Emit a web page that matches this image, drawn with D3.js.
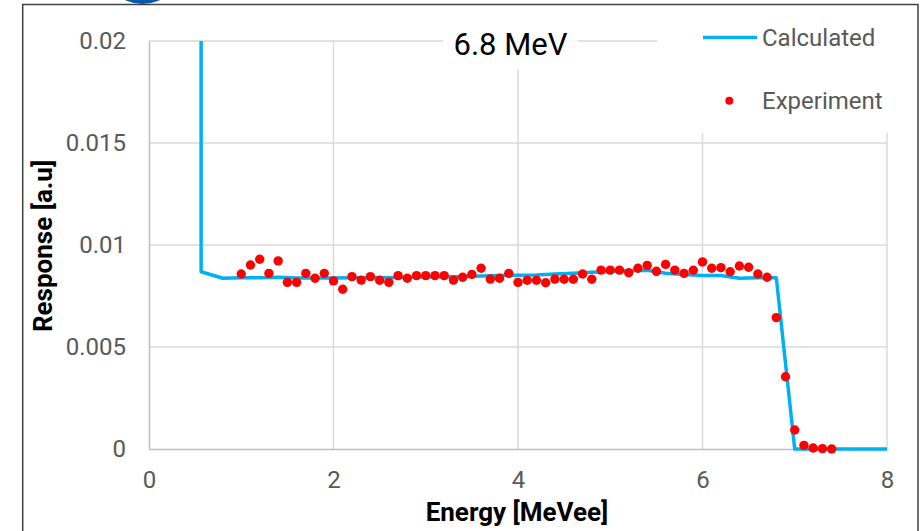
<!DOCTYPE html>
<html>
<head>
<meta charset="utf-8">
<script src="https://cdn.jsdelivr.net/npm/d3@7"></script>
<style>
  body { margin: 0; background: #fff; }
  svg { display: block; font-family: Roboto, "Noto Sans", sans-serif; }
</style>
</head>
<body>
<svg id="chart" width="921" height="531"></svg>
<script>
var width = 921;
var height = 531;

// calculated response curve
var calcEnergy = [0.565, 0.565, 0.8, 1.0, 1.2, 1.4, 1.6, 1.8, 2.0, 2.2, 2.4, 2.6, 2.8, 3.0, 3.2, 3.4, 3.6, 3.8,
  4.0, 4.2, 4.4, 4.6, 4.8, 5.0, 5.2, 5.4, 5.6, 5.8, 6.0, 6.2, 6.4, 6.6, 6.8, 7.0, 7.2, 7.4, 7.6, 7.8, 8.0];
var calcResponse = [0.0200, 0.00869, 0.00837, 0.00840, 0.00840, 0.00842, 0.00838, 0.00838, 0.00838, 0.00840,
  0.00840, 0.00840, 0.00842, 0.00843, 0.00843, 0.00845, 0.00848, 0.00850, 0.00852, 0.00853, 0.00858,
  0.00862, 0.00866, 0.00870, 0.00874, 0.00876, 0.00862, 0.00855, 0.00851, 0.00850, 0.00837, 0.00840,
  0.00840, 0, 0, 0, 0, 0, 0];

// measured points
var expEnergy = [1.0, 1.1, 1.2, 1.3, 1.4, 1.5, 1.6, 1.7, 1.8, 1.9, 2.0, 2.1, 2.2, 2.3, 2.4, 2.5, 2.6, 2.7, 2.8, 2.9,
  3.0, 3.1, 3.2, 3.3, 3.4, 3.5, 3.6, 3.7, 3.8, 3.9, 4.0, 4.1, 4.2, 4.3, 4.4, 4.5, 4.6, 4.7, 4.8, 4.9,
  5.0, 5.1, 5.2, 5.3, 5.4, 5.5, 5.6, 5.7, 5.8, 5.9, 6.0, 6.1, 6.2, 6.3, 6.4, 6.5, 6.6, 6.7, 6.8, 6.9,
  7.0, 7.1, 7.2, 7.3, 7.4];
var expResponse = [0.00858, 0.00902, 0.00930, 0.00861, 0.00922, 0.00817, 0.00817, 0.00861, 0.00837, 0.00861,
  0.00824, 0.00783, 0.00845, 0.00828, 0.00845, 0.00827, 0.00817, 0.00850, 0.00837, 0.00850,
  0.00850, 0.00850, 0.00850, 0.00828, 0.00842, 0.00856, 0.00886, 0.00833, 0.00837, 0.00861,
  0.00817, 0.00827, 0.00827, 0.00815, 0.00833, 0.00832, 0.00832, 0.00858, 0.00832, 0.00877,
  0.00877, 0.00877, 0.00864, 0.00886, 0.00900, 0.00871, 0.00905, 0.00877, 0.00861, 0.00876,
  0.00917, 0.00886, 0.00889, 0.00869, 0.00897, 0.00891, 0.00858, 0.00842, 0.00644, 0.00354,
  0.00093, 0.00018, 0.00005, 0.00002, 0.00000];

var xTicks = [0, 2, 4, 6, 8];
var yTicks = [0, 0.005, 0.01, 0.015, 0.02];
var yTickLabels = ['0', '0.005', '0.01', '0.015', '0.02'];

var svg = d3.select('#chart');

var xScale = d3.scaleLinear()
    .domain([0, 8])
    .range([149, 887]);

var yScale = d3.scaleLinear()
    .domain([0, 0.02])
    .range([449, 41]);

// outer frame and the stray marker at the top
svg.append('circle')
    .attr('cx', 142.5).attr('cy', -36).attr('r', 40)
    .attr('fill', '#0b5aa8');
svg.append('path')
    .attr('d', 'M22.7,531 V4.5 H918 V531')
    .attr('fill', 'none')
    .attr('stroke', '#404040')
    .attr('stroke-width', 1.5);

// grid
var grid = svg.append('g');
grid.selectAll('line.h')
    .data(yTicks.slice(1))
  .enter().append('line')
    .attr('x1', xScale(0)).attr('x2', xScale(8))
    .attr('y1', d => yScale(d)).attr('y2', d => yScale(d))
    .attr('stroke', '#d9d9d9').attr('stroke-width', 1.4);
grid.selectAll('line.v')
    .data(xTicks.slice(1))
  .enter().append('line')
    .attr('x1', d => xScale(d)).attr('x2', d => xScale(d))
    .attr('y1', yScale(0.02)).attr('y2', yScale(0))
    .attr('stroke', '#d9d9d9').attr('stroke-width', 1.4);

// axes
var xAxis = svg.append('g')
    .attr('transform', 'translate(0,' + yScale(0) + ')')
    .call(d3.axisBottom(xScale).tickValues(xTicks).tickSize(0).tickPadding(22));
var yAxis = svg.append('g')
    .attr('transform', 'translate(' + xScale(0) + ',0)')
    .call(d3.axisLeft(yScale).tickValues(yTicks).tickSize(0).tickPadding(23)
      .tickFormat((d, i) => yTickLabels[i]));

[xAxis, yAxis].forEach(function(a) {
  a.select('.domain').attr('stroke', '#bfbfbf').attr('stroke-width', 1.5);
  a.selectAll('text')
      .attr('fill', '#595959')
      .style('font-size', '24px')
      .style('font-family', 'Roboto, sans-serif');
});
xAxis.selectAll('text').attr('dy', '0.71em');

// white boxes behind title and legend
svg.append('rect')
    .attr('x', 443).attr('y', 18).attr('width', 135).attr('height', 51)
    .attr('fill', '#fff');
svg.append('rect')
    .attr('x', 657).attr('y', 10).attr('width', 255).attr('height', 123)
    .attr('fill', '#fff');

svg.append('text')
    .attr('x', 510.5).attr('y', 55)
    .attr('text-anchor', 'middle')
    .style('font-size', '31px')
    .attr('fill', '#000')
    .text('6.8 MeV');

// series
var line = d3.line()
    .x((d, i) => xScale(calcEnergy[i]))
    .y(d => yScale(d));

svg.append('path')
    .datum(calcResponse)
    .attr('d', line)
    .attr('fill', 'none')
    .attr('stroke', '#00b0f0')
    .attr('stroke-width', 3.5)
    .attr('stroke-linejoin', 'round');

svg.append('g')
  .selectAll('circle')
    .data(expResponse)
  .enter().append('circle')
    .attr('cx', (d, i) => xScale(expEnergy[i]))
    .attr('cy', d => yScale(d))
    .attr('r', 4.7)
    .attr('fill', '#ff0000');

// legend
var legend = svg.append('g');
legend.append('line')
    .attr('x1', 703).attr('x2', 757).attr('y1', 37.5).attr('y2', 37.5)
    .attr('stroke', '#00b0f0').attr('stroke-width', 3.5);
legend.append('text')
    .attr('x', 762).attr('y', 46)
    .style('font-size', '24px').attr('fill', '#595959')
    .text('Calculated');
legend.append('circle')
    .attr('cx', 729.3).attr('cy', 100.7).attr('r', 4)
    .attr('fill', '#ff0000');
legend.append('text')
    .attr('x', 762).attr('y', 108.5)
    .style('font-size', '24px').attr('fill', '#595959')
    .text('Experiment');

// axis titles
svg.append('text')
    .attr('x', 517).attr('y', 521)
    .attr('text-anchor', 'middle')
    .style('font-size', '26px').style('font-weight', 'bold')
    .attr('fill', '#000')
    .text('Energy [MeVee]');
svg.append('text')
    .attr('transform', 'translate(52,246) rotate(-90)')
    .attr('text-anchor', 'middle')
    .style('font-size', '26px').style('font-weight', 'bold')
    .attr('fill', '#000')
    .text('Response [a.u]');
</script>
</body>
</html>
